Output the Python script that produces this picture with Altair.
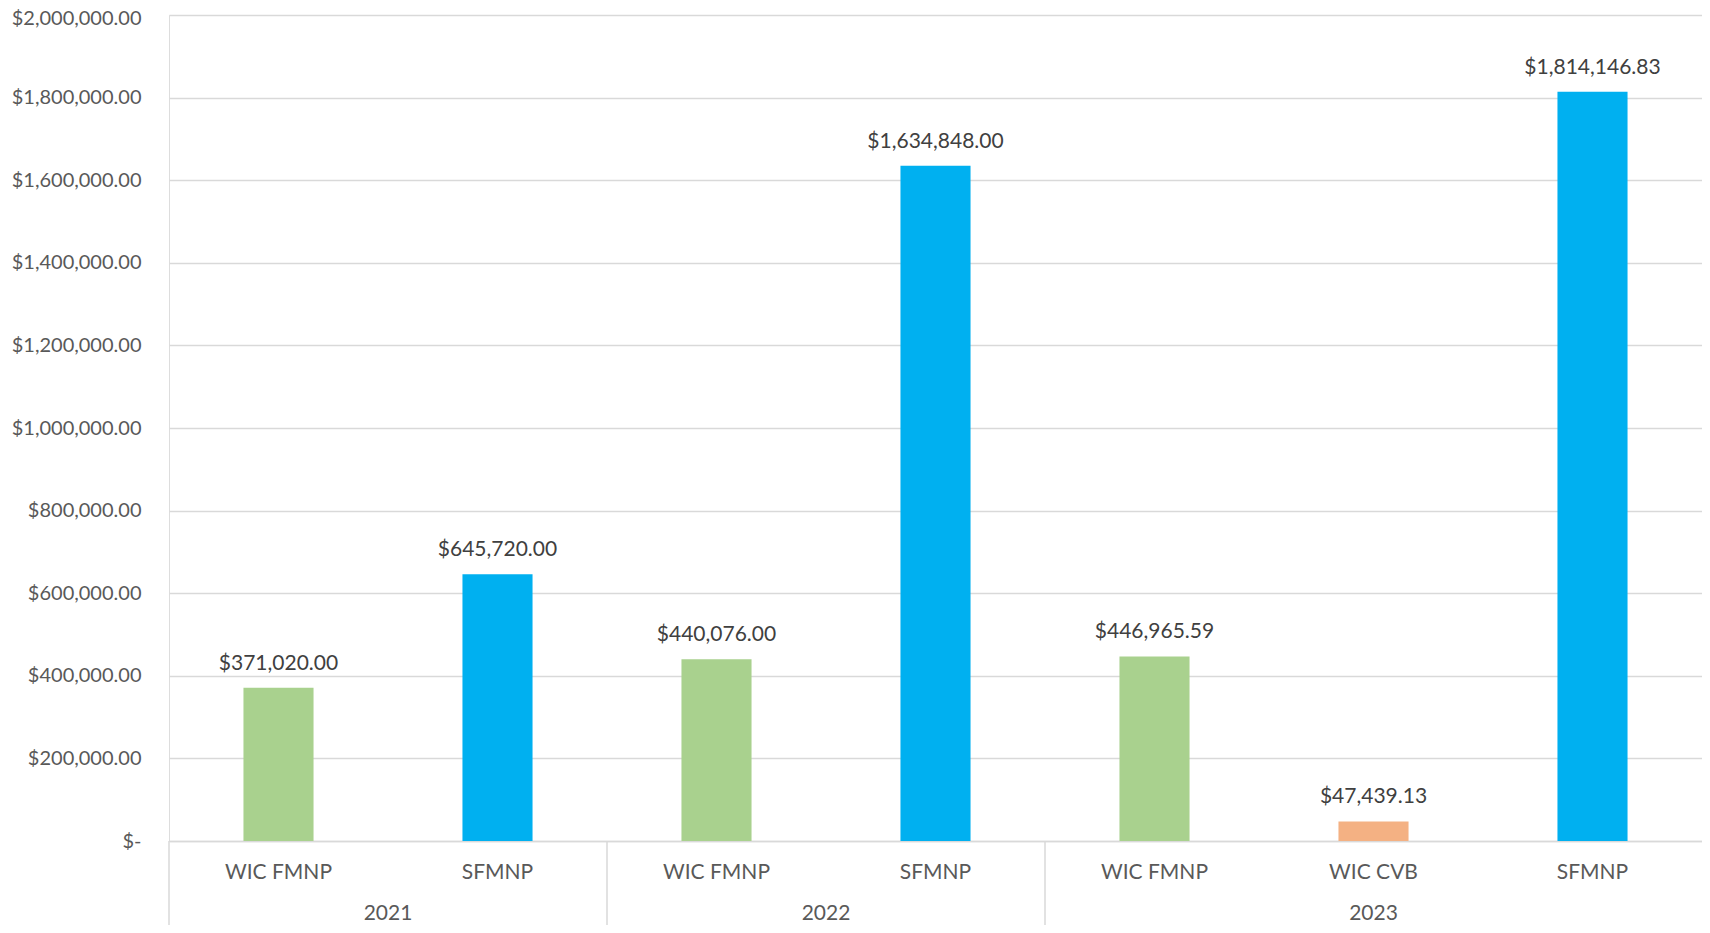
import altair as alt
import pandas as pd

years = ["2021", "2021", "2022", "2022", "2023", "2023", "2023"]
programs = ["WIC FMNP", "SFMNP", "WIC FMNP", "SFMNP", "WIC FMNP", "WIC CVB", "SFMNP"]
amounts = [371020.00, 645720.00, 440076.00, 1634848.00, 446965.59, 47439.13, 1814146.83]
color_domain = ["WIC FMNP", "SFMNP", "WIC CVB"]
color_range = ["#A9D18E", "#00B0F0", "#F4B183"]
y_ticks = [0, 200000, 400000, 600000, 800000, 1000000, 1200000, 1400000, 1600000, 1800000, 2000000]

keys = [f"{y}|{p}" for y, p in zip(years, programs)]
bars_df = pd.DataFrame({"key": keys, "year": years, "program": programs, "amount": amounts})

# year groups (derived from the year list order)
yr_rows = []
start = 0
for y in dict.fromkeys(years):
    n = years.count(y)
    yr_rows.append({"year": y, "start": start, "mid": start + n / 2})
    start += n
years_df = pd.DataFrame(yr_rows)
sep_df = pd.DataFrame({"pos": list(years_df["start"])})

W, H = 1533, 826
FONT = "Lato"
FS = 21

yscale = alt.Scale(domain=[0, 2000000], nice=False)
bscale = alt.Scale(paddingInner=0.68, paddingOuter=0.34)

bars = alt.Chart(bars_df).mark_bar().encode(
    x=alt.X("key:N", sort=keys, title=None, scale=bscale,
            axis=alt.Axis(labelExpr="split(datum.label, '|')[1]", labelAngle=0, ticks=False,
                          labelPadding=20, labelFont=FONT, labelFontSize=FS, labelColor="#595959",
                          domainColor="#D9D9D9", domainWidth=1.5, grid=False)),
    y=alt.Y("amount:Q", title=None, scale=yscale,
            axis=alt.Axis(values=y_ticks, ticks=False, domain=False,
                          labelExpr="datum.value == 0 ? '$-\u00a0\u00a0' : '$' + format(datum.value, ',.2f')",
                          labelOffset={"condition": {"test": "datum.value >= 2000000", "value": 3}, "value": 0},
                          labelFont=FONT, labelFontSize=20, labelColor="#595959",
                          labelPadding=28, gridColor="#D9D9D9", gridWidth=1.5)),
    color=alt.Color("program:N", scale=alt.Scale(domain=color_domain, range=color_range), legend=None),
)

labels = alt.Chart(bars_df).mark_text(dy=-24, font=FONT, fontSize=FS, color="#404040").encode(
    x=alt.X("key:N", sort=keys, axis=None, scale=bscale),
    y=alt.Y("amount:Q", title=None),
    text=alt.Text("amount:Q", format="$,.2f"),
)

qx = alt.Scale(domain=[0, len(years)], nice=False, zero=False)

year_text = alt.Chart(years_df).mark_text(font=FONT, fontSize=FS, color="#595959", baseline="middle").encode(
    x=alt.X("mid:Q", scale=qx, axis=None),
    y=alt.value(H + 73),
    text="year:N",
)

seps = alt.Chart(sep_df).mark_rule(color="#D9D9D9", strokeWidth=1.5).encode(
    x=alt.X("pos:Q", scale=qx, axis=None),
    y=alt.value(H),
    y2=alt.value(H + 120),
)

chart = alt.layer(bars, labels, seps, year_text).resolve_scale(x="independent").properties(
    width=W, height=H,
    autosize=alt.AutoSizeParams(type="none"),
    padding={"left": 161, "top": 7, "right": 0, "bottom": 84},
).configure_view(strokeWidth=0).configure(background="white")

chart.save("out.html", embed_options={"renderer": "svg", "actions": False})
